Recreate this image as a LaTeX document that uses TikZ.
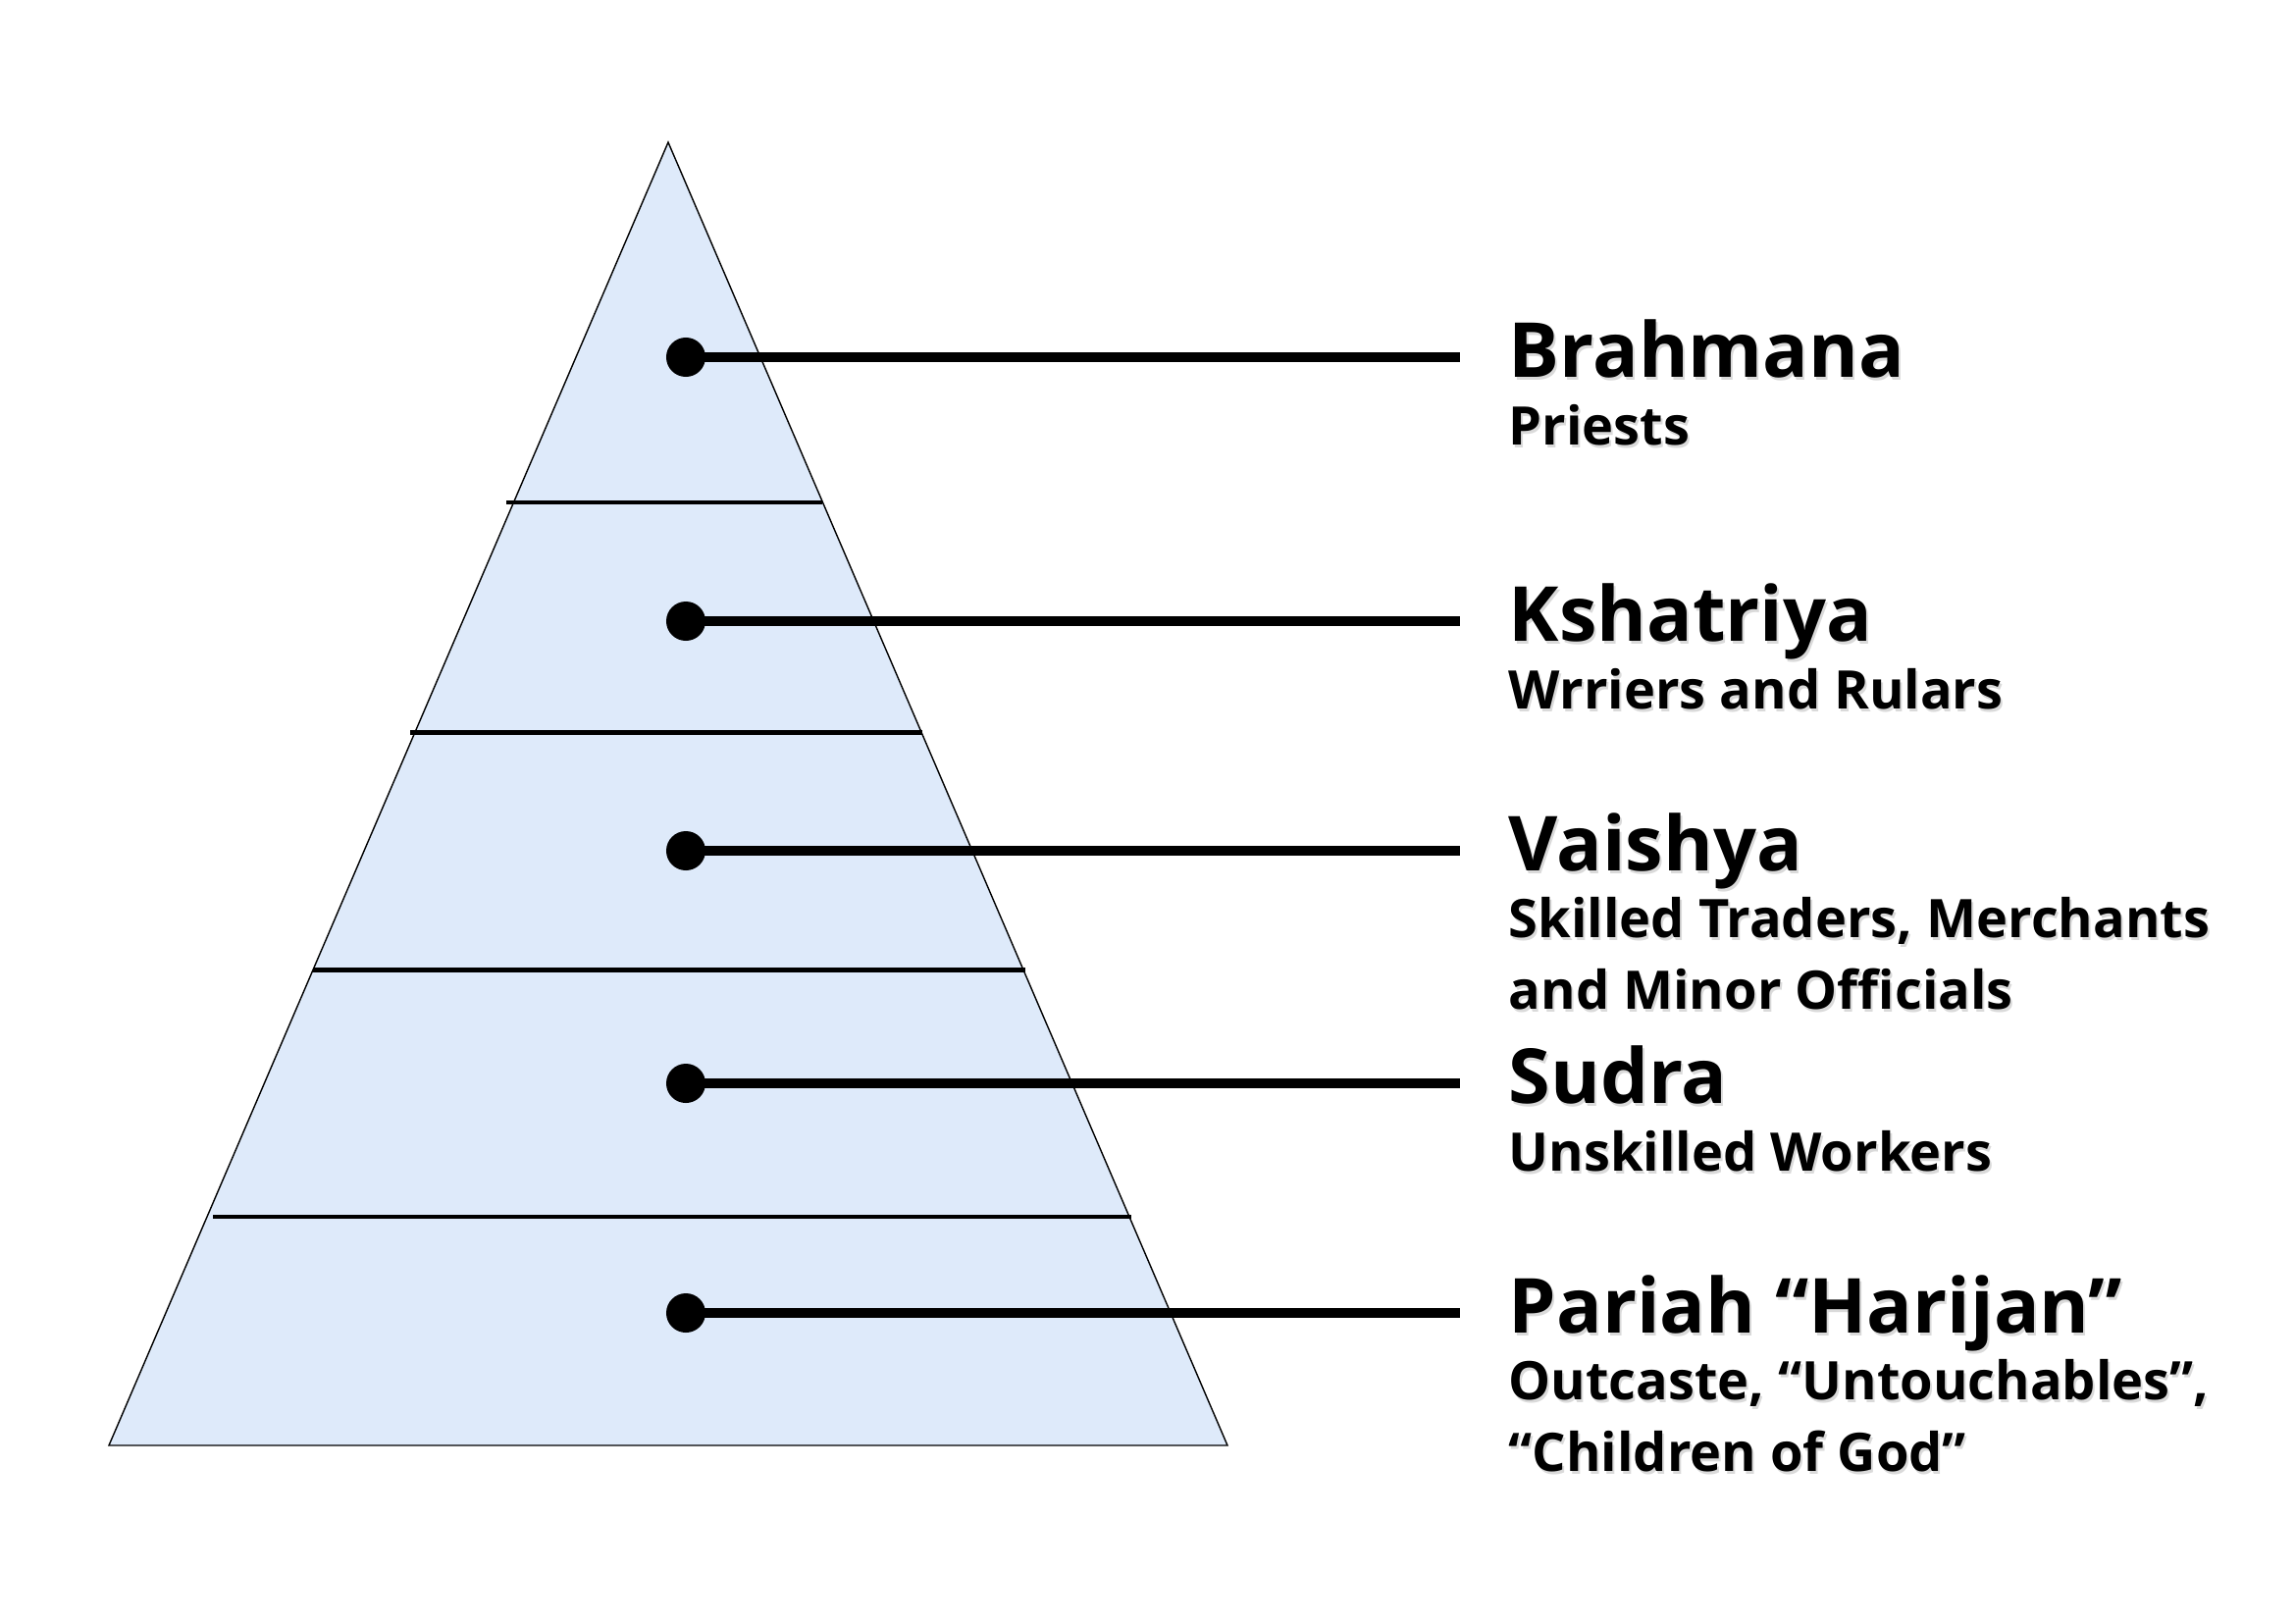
\documentclass[tikz,border=0pt]{standalone}
\usepackage{fontspec}
\setmainfont{Open Sans}
\usetikzlibrary{calc}
\definecolor{pyramidcolor}{RGB}{222,234,250}
\definecolor{shadowcolor}{RGB}{218,218,218}

\begin{document}
\begin{tikzpicture}[x=0.01cm, y=-0.01cm,
    dot/.style={circle, fill=black, inner sep=0pt, minimum size=0.4cm},
    title/.style={anchor=base west, inner sep=0pt, font=\fontsize{22}{27}\selectfont\bfseries},
    subtitle/.style={anchor=base west, inner sep=0pt, align=left, font=\fontsize{15.4}{20.5}\selectfont\bfseries}]
\useasboundingbox (0,0) rectangle (2339,1654);
% pyramid
\coordinate (apex) at (681,145);
\coordinate (baseleft) at (111,1473);
\coordinate (baseright) at (1251,1473);
\filldraw[fill=pyramidcolor, draw=black, line width=0.4pt]
  (apex) -- (baseright) -- (baseleft) -- cycle;
% dividers
\foreach \y/\xl/\xr [count=\i] in {512/516/838, 746.5/418/940, 988.5/319/1045, 1240/217/1153}
{
  \coordinate (divl\i) at (\xl,\y);
  \coordinate (divr\i) at (\xr,\y);
  \draw[line width=1.2pt] (divl\i) -- (divr\i);
}
% castes (\n = extra lines of the job text)
\foreach \y/\name/\job/\n [count=\i] in {
    364/Brahmana/Priests/0,
    633/Kshatriya/Wrriers and Rulars/0,
    867/Vaishya/{Skilled Traders, Merchants\\and Minor Officials}/1,
    1104/Sudra/Unskilled Workers/0,
    1338/Pariah “Harijan”/{Outcaste, “Untouchables”,\\“Children of God”}/1}
{
  \node[dot] (dot\i) at (699,\y) {};
  \coordinate (end\i) at (1488,\y);
  \draw[line width=2.85pt] (dot\i.center) -- (end\i);
  \node[title, text=shadowcolor] at (1539,\y+23) {\name};
  \node[title] (name\i) at (1537,\y+20) {\name};
  \node[subtitle, text=shadowcolor] at ($(name\i.base west)+(2,72+72*\n)$) {\job};
  \node[subtitle] (job\i) at ($(name\i.base west)+(0,69+72*\n)$) {\job};
}
\end{tikzpicture}
\end{document}
